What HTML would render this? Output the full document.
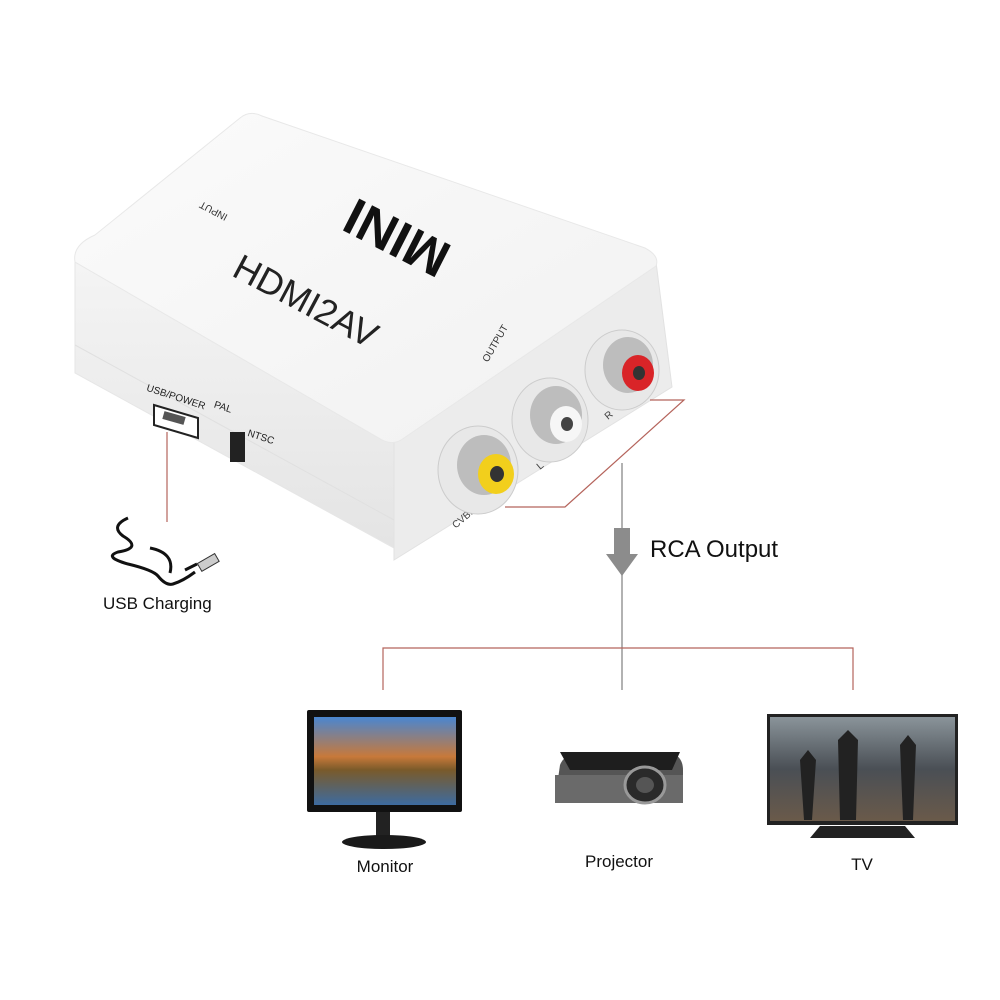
<!DOCTYPE html>
<html><head><style>
html,body{margin:0;padding:0;background:#fff;}
svg{display:block;font-family:"Liberation Sans",sans-serif;}
</style></head><body>
<svg width="1000" height="1000" viewBox="0 0 1000 1000">
<defs>
<linearGradient id="top" x1="0" y1="0" x2="1" y2="1"><stop offset="0" stop-color="#fbfbfb"/><stop offset="1" stop-color="#f1f1f1"/></linearGradient>
<linearGradient id="side" x1="0" y1="0" x2="0" y2="1"><stop offset="0" stop-color="#f4f4f4"/><stop offset="1" stop-color="#e4e4e4"/></linearGradient>
<linearGradient id="sky" x1="0" y1="0" x2="0" y2="1"><stop offset="0" stop-color="#4a86d0"/><stop offset="0.45" stop-color="#c8793a"/><stop offset="0.6" stop-color="#7a5a2a"/><stop offset="1" stop-color="#3d6ba0"/></linearGradient>
<linearGradient id="tvs" x1="0" y1="0" x2="0" y2="1"><stop offset="0" stop-color="#8a949a"/><stop offset="0.5" stop-color="#4a4f55"/><stop offset="1" stop-color="#6a5a4a"/></linearGradient>
</defs>
<!-- box sides -->
<path d="M75,262 L394,440 L394,548 L75,373 Z" fill="url(#side)" stroke="#e6e6e6"/>
<path d="M394,440 L656,262 L672,387 L394,560 Z" fill="#ececec" stroke="#e2e2e2"/>
<path d="M75,262 Q72,245 95,235 L240,118 Q250,110 262,116 L645,248 Q660,256 656,266 L404,438 Q394,446 382,440 Z" fill="url(#top)" stroke="#e8e8e8"/>
<line x1="75" y1="345" x2="394" y2="520" stroke="#e0e0e0"/>
<!-- text on top -->
<text x="0" y="0" font-size="52" font-weight="bold" fill="#111" transform="translate(405,222) rotate(207)" text-anchor="middle">MINI</text>
<text x="0" y="0" font-size="36" fill="#222" transform="translate(300,312) rotate(28)" text-anchor="middle">HDMI2AV</text>
<text x="0" y="0" font-size="10" fill="#333" transform="translate(215,208) rotate(208)" text-anchor="middle">INPUT</text>
<text x="0" y="0" font-size="10" fill="#333" transform="translate(498,345) rotate(-60)" text-anchor="middle">OUTPUT</text>
<text x="0" y="0" font-size="10" fill="#222" transform="translate(175,400) rotate(18)" text-anchor="middle">USB/POWER</text>
<text x="0" y="0" font-size="10" fill="#222" transform="translate(222,410) rotate(18)" text-anchor="middle">PAL</text>
<text x="0" y="0" font-size="10" fill="#222" transform="translate(260,440) rotate(18)" text-anchor="middle">NTSC</text>
<text x="0" y="0" font-size="10" fill="#444" transform="translate(466,520) rotate(-40)" text-anchor="middle">CVBS</text>
<text x="0" y="0" font-size="10" fill="#444" transform="translate(540,470) rotate(-40)">L</text>
<text x="0" y="0" font-size="10" fill="#444" transform="translate(608,420) rotate(-40)">R</text>
<!-- usb port & switch -->
<path d="M154,405 L198,418 L198,438 L154,425 Z" fill="#fff" stroke="#222" stroke-width="2"/>
<rect x="163" y="414" width="22" height="8" fill="#555" transform="rotate(16 174 418)"/>
<rect x="230" y="432" width="15" height="30" fill="#222"/>
<!-- RCA jacks -->
<g>
<ellipse cx="478" cy="470" rx="40" ry="44" fill="#e8e8e8" stroke="#ccc"/>
<ellipse cx="484" cy="465" rx="27" ry="30" fill="#bdbdbd"/>
<ellipse cx="496" cy="474" rx="18" ry="20" fill="#f2cf1c"/>
<ellipse cx="497" cy="474" rx="7" ry="8" fill="#333"/>
<ellipse cx="550" cy="420" rx="38" ry="42" fill="#e8e8e8" stroke="#ccc"/>
<ellipse cx="556" cy="415" rx="26" ry="29" fill="#bdbdbd"/>
<ellipse cx="566" cy="424" rx="16" ry="18" fill="#f6f6f6"/>
<ellipse cx="567" cy="424" rx="6" ry="7" fill="#444"/>
<ellipse cx="622" cy="370" rx="37" ry="40" fill="#e8e8e8" stroke="#ccc"/>
<ellipse cx="628" cy="365" rx="25" ry="28" fill="#bdbdbd"/>
<ellipse cx="638" cy="373" rx="16" ry="18" fill="#d92428"/>
<ellipse cx="639" cy="373" rx="6" ry="7" fill="#333"/>
</g>
<!-- connector lines -->
<line x1="167" y1="432" x2="167" y2="522" stroke="#b5645c" stroke-width="1.2"/>
<polyline points="505,507 565,507 684,400 650,400" fill="none" stroke="#b5645c" stroke-width="1.2"/>
<line x1="622" y1="463" x2="622" y2="690" stroke="#999" stroke-width="1.5"/>
<path d="M614,528 L630,528 L630,554 L638,554 L622,576 L606,554 L614,554 Z" fill="#8c8c8c"/>
<text x="650" y="557" font-size="24" fill="#111">RCA Output</text>
<polyline points="383,690 383,648 853,648 853,690" fill="none" stroke="#b5645c" stroke-width="1.2"/>
<!-- cable -->
<path d="M128,518 q-18,8 -5,18 q20,12 -5,16 q-15,5 10,12 q25,6 30,12 q8,10 15,8 q10,-3 22,-12 M150,548 q25,5 20,25" fill="none" stroke="#111" stroke-width="3"/>
<path d="M185,570 l12,-6" stroke="#111" stroke-width="3"/>
<rect x="198" y="558" width="20" height="9" fill="#ccc" stroke="#333" transform="rotate(-30 208 562)"/>
<text x="103" y="609" font-size="17" fill="#111">USB Charging</text>
<!-- monitor -->
<rect x="307" y="710" width="155" height="102" fill="#111" rx="2"/>
<rect x="314" y="717" width="142" height="88" fill="url(#sky)"/>
<rect x="376" y="812" width="14" height="26" fill="#222"/>
<ellipse cx="384" cy="842" rx="42" ry="7" fill="#1a1a1a"/>
<text x="385" y="872" font-size="17" fill="#111" text-anchor="middle">Monitor</text>
<!-- projector -->
<path d="M560,765 Q565,752 585,752 L668,752 Q683,755 683,770 L683,800 L555,800 Z" fill="#555"/>
<path d="M560,752 L680,752 L672,770 L570,770 Z" fill="#1e1e1e"/>
<rect x="555" y="775" width="128" height="28" fill="#6a6a6a"/>
<ellipse cx="645" cy="785" rx="20" ry="18" fill="#2a2a2a" stroke="#999" stroke-width="3"/>
<ellipse cx="645" cy="785" rx="9" ry="8" fill="#555"/>
<text x="619" y="867" font-size="17" fill="#111" text-anchor="middle">Projector</text>
<!-- tv -->
<rect x="767" y="714" width="191" height="111" fill="#222"/>
<rect x="770" y="717" width="185" height="104" fill="url(#tvs)"/>
<path d="M800,760 l8,-10 l8,10 l-4,60 l-8,0 Z M838,740 l10,-10 l10,10 l-2,80 l-16,0 Z M900,745 l8,-10 l8,10 l-3,75 l-10,0 Z" fill="#222"/>
<path d="M820,826 L905,826 L915,838 L810,838 Z" fill="#222"/>
<text x="862" y="870" font-size="17" fill="#111" text-anchor="middle">TV</text>
</svg>
</body></html>
